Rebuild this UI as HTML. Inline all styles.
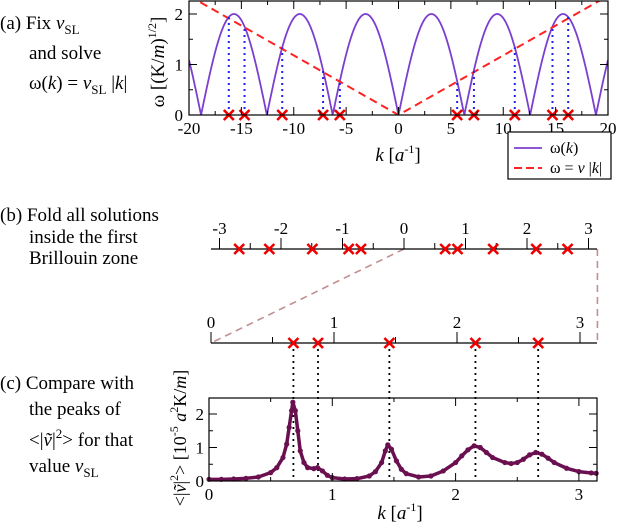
<!DOCTYPE html>
<html><head><meta charset="utf-8"><style>
body{margin:0;background:#fff;}
svg{display:block;font-family:"Liberation Serif",serif;}
</style></head><body>
<svg id="fig" width="618" height="522" viewBox="0 0 618 522" xmlns="http://www.w3.org/2000/svg">
<g id="texts" font-size="19" fill="#000">
<text x="0" y="29">(a) Fix <tspan font-style="italic">v</tspan><tspan font-size="13" dy="5">SL</tspan></text>
<text x="29" y="59">and solve</text>
<text x="29" y="89">ω(<tspan font-style="italic">k</tspan>) = <tspan font-style="italic">v</tspan><tspan font-size="13" dy="5">SL</tspan><tspan dy="-5"> |</tspan><tspan font-style="italic">k</tspan>|</text>
<text x="0" y="221">(b) Fold all solutions</text>
<text x="29" y="243">inside the first</text>
<text x="29" y="264">Brillouin zone</text>
<text x="0" y="389">(c) Compare with</text>
<text x="29" y="415">the peaks of</text>
<text x="29" y="446">&lt;|<tspan font-style="italic">ṽ</tspan>|<tspan font-size="13" dy="-8">2</tspan><tspan dy="8">&gt; for that</tspan></text>
<text x="29" y="472">value <tspan font-style="italic">v</tspan><tspan font-size="13" dy="5">SL</tspan></text>
</g>
<g id="top"></g>
<g id="mid"></g>
<g id="bot"></g>
</svg>
<script>
// ---- data ----
const topXTicks = [-20,-15,-10,-5,0,5,10,15,20];
const topYTicks = [0,1,2];
const omegaAmp = [2];               // ω(k) = amp |sin(k/2)|
const vSL = [0.118];
const solutionsK = [-16.2,-14.7,-11.1,-7.2,-5.6,5.6,7.2,11.1,14.7,16.2];
const foldedK = [-2.68,-2.19,-1.49,-0.90,-0.70,0.67,0.87,1.45,2.15,2.66];
const foldedPos = [0.67,0.87,1.45,2.15,2.66];
const midTicks = [-3,-2,-1,0,1,2,3];
const botTicks = [0,1,2,3];
const botYTicks = [0,1,2];
const specK = [0,0.1,0.2,0.3,0.4,0.5,0.55,0.6,0.63,0.65,0.67,0.68,0.70,0.72,0.74,0.77,0.8,0.85,0.88,0.92,0.96,1.0,1.1,1.2,1.3,1.35,1.4,1.43,1.45,1.48,1.52,1.56,1.6,1.7,1.8,1.9,2.0,2.05,2.1,2.15,2.2,2.25,2.3,2.4,2.45,2.5,2.55,2.6,2.65,2.7,2.75,2.8,2.9,3.0,3.1,3.14];
const specV = [0.05,0.05,0.06,0.08,0.12,0.25,0.4,0.7,1.1,1.6,2.1,2.35,2.1,1.5,0.9,0.55,0.4,0.37,0.4,0.3,0.17,0.1,0.06,0.07,0.15,0.28,0.55,0.9,1.08,0.95,0.6,0.35,0.22,0.12,0.15,0.3,0.55,0.75,0.93,1.05,1.0,0.85,0.7,0.55,0.52,0.55,0.65,0.78,0.85,0.8,0.68,0.55,0.38,0.28,0.24,0.23];

const NS="http://www.w3.org/2000/svg";
function mk(parent,tag,attrs,text){const e=document.createElementNS(NS,tag);for(const k in attrs)e.setAttribute(k,attrs[k]);if(text!==undefined)e.textContent=text;parent.appendChild(e);return e;}
function cross(g,x,y){
  const c=mk(g,'path',{d:`M${x-5},${y-5}L${x+5},${y+5}M${x-5},${y+5}L${x+5},${y-5}`,stroke:'#e00',"stroke-width":2.6,fill:'none'});
  
  
}
// ---- top plot ----
const T=document.getElementById('top');


const tL=189,tR=608,tT=1,tB=115;
const tx=k=>tL+(k+20)/40*(tR-tL);
const ty=w=>tB-w*50.5;
const omega=k=>omegaAmp[0]*Math.abs(Math.sin(k/2));
mk(T,'clipPath',{id:'tc'}).appendChild(document.createElementNS(NS,'rect'));
const cr=document.querySelector('#tc rect');cr.setAttribute('x',tL);cr.setAttribute('y',tT);cr.setAttribute('width',tR-tL);cr.setAttribute('height',tB-tT);
let d='';for(let i=0;i<=800;i++){const k=-20+40*i/800;d+=(i?'L':'M')+tx(k).toFixed(2)+','+ty(omega(k)).toFixed(2);}
const curve=mk(T,'path',{d:d,stroke:'#7b3fd0',"stroke-width":1.8,fill:'none','clip-path':'url(#tc)'});


const ln=mk(T,'path',{d:`M${tx(-20)},${ty(vSL[0]*20)}L${tx(0)},${ty(0)}L${tx(20)},${ty(vSL[0]*20)}`,stroke:'#f22',"stroke-width":2,"stroke-dasharray":"8,5",fill:'none','clip-path':'url(#tc)'});


solutionsK.forEach(k=>{
  const l=mk(T,'line',{x1:tx(k),x2:tx(k),y1:tB,y2:ty(omega(k)),stroke:'#22e',"stroke-width":2,"stroke-dasharray":"2,4"});
  
  
  cross(T,tx(k),tB);
});
mk(T,'rect',{x:tL,y:tT,width:tR-tL,height:tB-tT,fill:'none',stroke:'#000',"stroke-width":1.2});
for(let i=0;i<=16;i++){const k=-20+i*2.5;const maj=i%2===0;mk(T,'line',{x1:tx(k),x2:tx(k),y1:tB,y2:tB-(maj?8:4),stroke:'#000'});mk(T,'line',{x1:tx(k),x2:tx(k),y1:tT,y2:tT+(maj?8:4),stroke:'#000'});}
for(let i=0;i<=4;i++){const w=i*0.5;const maj=i%2===0;mk(T,'line',{x1:tL,x2:tL+(maj?8:4),y1:ty(w),y2:ty(w),stroke:'#000'});mk(T,'line',{x1:tR,x2:tR-(maj?8:4),y1:ty(w),y2:ty(w),stroke:'#000'});}
topXTicks.forEach(k=>{const t=mk(T,'text',{x:tx(k),y:134,"text-anchor":"middle","font-size":17},String(k));});
topYTicks.forEach(w=>{const t=mk(T,'text',{x:tL-6,y:ty(w)+6,"text-anchor":"end","font-size":17},String(w));});
let xt=mk(T,'text',{x:398,y:161,"text-anchor":"middle","font-size":19});xt.innerHTML='<tspan font-style="italic">k</tspan> [<tspan font-style="italic">a</tspan><tspan font-size="12" dy="-8">-1</tspan><tspan dy="8">]</tspan>';

let yt=mk(T,'text',{transform:'translate(164,62) rotate(-90)',"text-anchor":"middle","font-size":19});yt.innerHTML='ω  [(K/<tspan font-style="italic">m</tspan>)<tspan font-size="12" dy="-8">1/2</tspan><tspan dy="8">]</tspan>';

const lg=mk(T,'g',{});
mk(lg,'rect',{x:508,y:132,width:103,height:47,fill:'#fff',stroke:'#000',"stroke-width":1.2});
mk(lg,'line',{x1:514,x2:542,y1:148,y2:148,stroke:'#7b3fd0',"stroke-width":1.8});
const l1=mk(lg,'text',{x:550,y:153,"font-size":16});l1.innerHTML='ω(<tspan font-style="italic">k</tspan>)';
mk(lg,'line',{x1:514,x2:542,y1:168,y2:168,stroke:'#f22',"stroke-width":2,"stroke-dasharray":"8,4"});
const l2=mk(lg,'text',{x:550,y:173,"font-size":16});l2.innerHTML='ω = <tspan font-style="italic">v</tspan> |<tspan font-style="italic">k</tspan>|';
// ---- middle ----
const M=document.getElementById('mid');


const my1=249,mx=k=>404+k*61.5;
const my2=343,bx=k=>211+k*123;
mk(M,'path',{d:`M${mx(0)},${my1}L${bx(0)},${my2}M${bx(Math.PI)},${my1}L${bx(Math.PI)},${my2}`,stroke:'#c09090',"stroke-width":1.6,"stroke-dasharray":"7,5",fill:'none'});
mk(M,'line',{x1:211,x2:597,y1:my1,y2:my1,stroke:'#000',"stroke-width":1.3});
for(let i=0;i<=12;i++){const k=-3+i*0.5;const maj=i%2===0;mk(M,'line',{x1:mx(k),x2:mx(k),y1:my1,y2:my1-(maj?11:6),stroke:'#000'});}
midTicks.forEach(k=>{const t=mk(M,'text',{x:mx(k),y:234,"text-anchor":"middle","font-size":17},String(k));});
foldedK.forEach(k=>cross(M,mx(k),my1));
mk(M,'line',{x1:211,x2:597,y1:my2,y2:my2,stroke:'#000',"stroke-width":1.3});
for(let i=0;i<=6;i++){const k=i*0.5;const maj=i%2===0;mk(M,'line',{x1:bx(k),x2:bx(k),y1:my2,y2:my2-(maj?11:6),stroke:'#000'});}
botTicks.forEach(k=>{const t=mk(M,'text',{x:bx(k),y:328,"text-anchor":"middle","font-size":17},String(k));});
foldedPos.forEach(k=>{
  const l=mk(M,'line',{x1:bx(k),x2:bx(k),y1:my2,y2:481,stroke:'#000',"stroke-width":1.8,"stroke-dasharray":"2,4"});
  
  
  cross(M,bx(k),my2);
});
// ---- bottom plot ----
const B=document.getElementById('bot');


const bL=209,bR=597,bT=398,bB=481;
const sx=k=>bL+k*123.3, sy=v=>bB-v*33.5;
let sd='';specK.forEach((k,i)=>{sd+=(i?'L':'M')+sx(k).toFixed(2)+','+sy(specV[i]).toFixed(2);});
const sp=mk(B,'path',{d:sd,stroke:'#6a0f4f',"stroke-width":3.5,fill:'none',"stroke-linejoin":"round"});


specK.forEach((k,i)=>{const c=mk(B,'circle',{cx:sx(k),cy:sy(specV[i]),r:2.6,fill:'#6a0f4f'});});
mk(B,'rect',{x:bL,y:bT,width:bR-bL,height:bB-bT,fill:'none',stroke:'#000',"stroke-width":1.2});
for(let i=0;i<=6;i++){const k=i*0.5;const maj=i%2===0;mk(B,'line',{x1:sx(k),x2:sx(k),y1:bB,y2:bB-(maj?8:4),stroke:'#000'});mk(B,'line',{x1:sx(k),x2:sx(k),y1:bT,y2:bT+(maj?8:4),stroke:'#000'});}
for(let i=0;i<=4;i++){const v=i*0.5;const maj=i%2===0;mk(B,'line',{x1:bL,x2:bL+(maj?8:4),y1:sy(v),y2:sy(v),stroke:'#000'});mk(B,'line',{x1:bR,x2:bR-(maj?8:4),y1:sy(v),y2:sy(v),stroke:'#000'});}
botTicks.forEach(k=>{const t=mk(B,'text',{x:sx(k),y:500,"text-anchor":"middle","font-size":17},String(k));});
botYTicks.forEach(v=>{const t=mk(B,'text',{x:bL-5,y:sy(v)+6,"text-anchor":"end","font-size":17},String(v));});
let bxt=mk(B,'text',{x:400,y:519,"text-anchor":"middle","font-size":19});bxt.innerHTML='<tspan font-style="italic">k</tspan> [<tspan font-style="italic">a</tspan><tspan font-size="12" dy="-8">-1</tspan><tspan dy="8">]</tspan>';

let byt=mk(B,'text',{transform:'translate(186,438) rotate(-90)',"text-anchor":"middle","font-size":18});byt.innerHTML='&lt;|<tspan font-style="italic">ṽ</tspan>|<tspan font-size="12" dy="-8">2</tspan><tspan dy="8">&gt;  [10</tspan><tspan font-size="12" dy="-8">-5</tspan><tspan dy="8"> </tspan><tspan font-style="italic">a</tspan><tspan font-size="12" dy="-8">2</tspan><tspan dy="8">K/</tspan><tspan font-style="italic">m</tspan>]';

</script>
</body></html>
